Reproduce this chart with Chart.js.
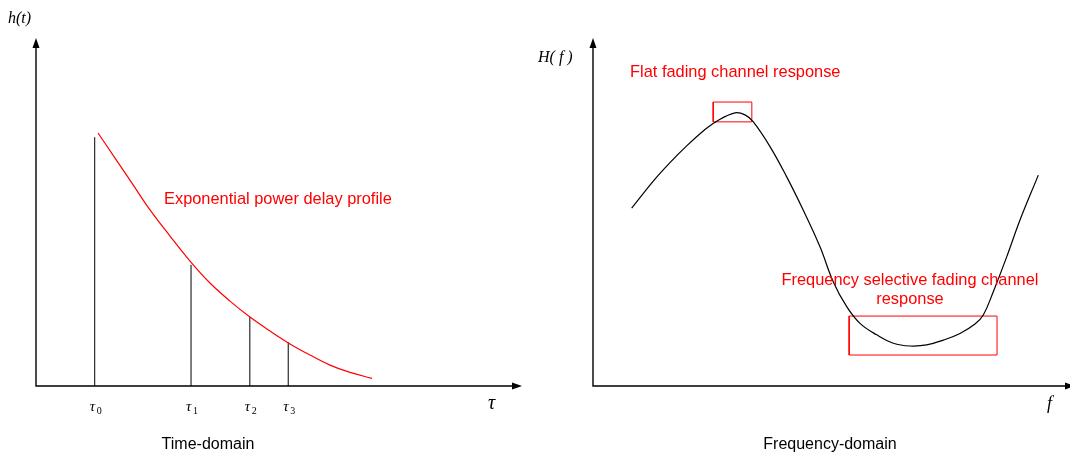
<!DOCTYPE html>
<html>
<head>
<meta charset="utf-8">
<script src="https://cdn.jsdelivr.net/npm/chart.js@4"></script>
<style>
body { margin: 0; background: #fff; }
.panel { position: absolute; top: 0; width: 535px; height: 455px; }
</style>
</head>
<body>
<div class="panel" style="left:0"><canvas id="time-domain" width="535" height="455"></canvas></div>
<div class="panel" style="left:535px"><canvas id="freq-domain" width="535" height="455"></canvas></div>
<script>
// channel taps: delay and amplitude
var tapDelays = [1.208, 3.19, 4.40, 5.19]
var tapGains = [0.715, 0.348, 0.198, 0.126]
var tapLabels = ['0', '1', '2', '3']

// power delay profile envelope
var pdpDelay = [1.276, 1.626, 1.975, 2.346, 2.757, 3.169, 3.580, 3.992, 4.403, 4.815, 5.226, 5.638, 6.049, 6.461, 6.914]
var pdpPower = [0.727, 0.655, 0.583, 0.506, 0.431, 0.359, 0.296, 0.244, 0.198, 0.158, 0.121, 0.089, 0.060, 0.039, 0.022]

// channel frequency response magnitude
var freqAxis = [0.811, 1.264, 1.614, 1.964, 2.312, 2.593, 2.977, 3.187, 3.361, 3.711, 4.061, 4.409, 4.759, 5.038, 5.319, 5.597, 5.948, 6.296, 6.646, 6.996, 7.344, 7.694, 8.008, 8.182, 8.392, 8.673, 8.952, 9.336]
var freqGain = [0.511, 0.589, 0.642, 0.690, 0.733, 0.761, 0.785, 0.779, 0.759, 0.688, 0.601, 0.505, 0.400, 0.299, 0.228, 0.180, 0.147, 0.123, 0.115, 0.118, 0.132, 0.151, 0.178, 0.204, 0.271, 0.371, 0.477, 0.606]

// highlighted bands: [f start, f end, low, high]
var flatBand = [2.52, 3.33, 0.759, 0.816]
var selectiveBand = [5.37, 8.47, 0.089, 0.201]

var RED = '#ff0000'
var SANS = '"Liberation Sans", Arial, sans-serif'
var SERIF = '"Liberation Serif", "Times New Roman", serif'

function xy(xs, ys) {
  var pts = []
  for (var i = 0; i < xs.length; i++) pts.push({x: xs[i], y: ys[i]})
  return pts
}

function boxPoints(b) {
  return [{x: b[0], y: b[2]}, {x: b[1], y: b[2]}, {x: b[1], y: b[3]}, {x: b[0], y: b[3]}, {x: b[0], y: b[2]}]
}

function stemPoints() {
  var pts = []
  for (var i = 0; i < tapDelays.length; i++) {
    pts.push({x: tapDelays[i], y: 0}, {x: tapDelays[i], y: tapGains[i]}, {x: tapDelays[i], y: null})
  }
  return pts
}

function arrowHead(ctx, x, y, dir) {
  ctx.beginPath()
  if (dir == 'up') {
    ctx.moveTo(x, y); ctx.lineTo(x - 3.5, y + 10); ctx.lineTo(x + 3.5, y + 10)
  } else {
    ctx.moveTo(x, y); ctx.lineTo(x - 10, y - 3.5); ctx.lineTo(x - 10, y + 3.5)
  }
  ctx.closePath()
  ctx.fill()
}

// plain arrowed axes along the chart area edges
var arrowAxes = {
  id: 'arrowAxes',
  afterDatasetsDraw: function(chart, args, opts) {
    var ctx = chart.ctx, a = chart.chartArea
    var xEnd = a.right + (opts.overshoot || 0)
    ctx.save()
    ctx.strokeStyle = '#000'
    ctx.fillStyle = '#000'
    ctx.lineWidth = 1.4
    ctx.beginPath()
    ctx.moveTo(a.left, a.top + 6)
    ctx.lineTo(a.left, a.bottom)
    ctx.lineTo(xEnd - 6, a.bottom)
    ctx.stroke()
    arrowHead(ctx, a.left, a.top, 'up')
    arrowHead(ctx, xEnd, a.bottom, 'right')
    ctx.restore()
  }
}

function text(ctx, str, x, y, font, color, align) {
  ctx.font = font
  ctx.fillStyle = color || '#000'
  ctx.textAlign = align || 'left'
  ctx.textBaseline = 'alphabetic'
  ctx.fillText(str, x, y)
}

var timeLabels = {
  id: 'timeLabels',
  afterDraw: function(chart) {
    var ctx = chart.ctx, xs = chart.scales.x
    ctx.save()
    text(ctx, 'h(t)', 8, 23, 'italic 16px ' + SERIF)
    for (var i = 0; i < tapDelays.length; i++) {
      var px = xs.getPixelForValue(tapDelays[i])
      text(ctx, 'τ', px - 5, 411, 'italic 15px ' + SERIF)
      text(ctx, tapLabels[i], px + 2, 414, '10px ' + SERIF)
    }
    text(ctx, 'τ', 488, 409, 'italic 20px ' + SERIF)
    text(ctx, 'Exponential power delay profile', 164, 204, '16.4px ' + SANS, RED)
    text(ctx, 'Time-domain', 208, 449, '16px ' + SANS, '#000', 'center')
    ctx.restore()
  }
}

var freqLabels = {
  id: 'freqLabels',
  afterDraw: function(chart) {
    var ctx = chart.ctx
    ctx.save()
    text(ctx, 'H( f )', 3, 62, 'italic 16px ' + SERIF)
    text(ctx, 'f', 512, 409, 'italic 18px ' + SERIF)
    text(ctx, 'Flat fading channel response', 95, 77, '16.4px ' + SANS, RED)
    text(ctx, 'Frequency selective fading channel', 375, 285, '16.4px ' + SANS, RED, 'center')
    text(ctx, 'response', 375, 304, '16.4px ' + SANS, RED, 'center')
    text(ctx, 'Frequency-domain', 295, 449, '16px ' + SANS, '#000', 'center')
    ctx.restore()
  }
}

function baseOptions(padding, overshoot) {
  return {
    responsive: false,
    devicePixelRatio: 1,
    animation: false,
    layout: {padding: padding},
    elements: {point: {radius: 0}},
    scales: {
      x: {type: 'linear', min: 0, max: 10, display: false},
      y: {min: 0, max: 1, display: false}
    },
    plugins: {
      legend: {display: false},
      tooltip: {enabled: false},
      arrowAxes: {overshoot: overshoot}
    }
  }
}

var timeChart = new Chart(document.getElementById('time-domain').getContext('2d'), {
  type: 'line',
  data: {
    datasets: [
      {
        label: 'Power delay profile',
        data: xy(pdpDelay, pdpPower),
        borderColor: RED,
        borderWidth: 1.2,
        tension: 0.4
      },
      {
        label: 'Taps',
        data: stemPoints(),
        borderColor: '#000',
        borderWidth: 1,
        tension: 0,
        spanGaps: false
      }
    ]
  },
  options: baseOptions({left: 36, right: 13, top: 38, bottom: 69}, 0),
  plugins: [arrowAxes, timeLabels]
})

var freqChart = new Chart(document.getElementById('freq-domain').getContext('2d'), {
  type: 'line',
  data: {
    datasets: [
      {
        label: 'H(f)',
        data: xy(freqAxis, freqGain),
        borderColor: '#000',
        borderWidth: 1.2,
        tension: 0.4
      },
      {
        label: 'Flat band',
        data: boxPoints(flatBand),
        borderColor: RED,
        borderWidth: 1,
        tension: 0
      },
      {
        label: 'Selective band',
        data: boxPoints(selectiveBand),
        borderColor: RED,
        borderWidth: 1,
        tension: 0
      }
    ]
  },
  options: baseOptions({left: 58, right: 0, top: 38, bottom: 69}, 5),
  plugins: [arrowAxes, freqLabels]
})
</script>
</body>
</html>
